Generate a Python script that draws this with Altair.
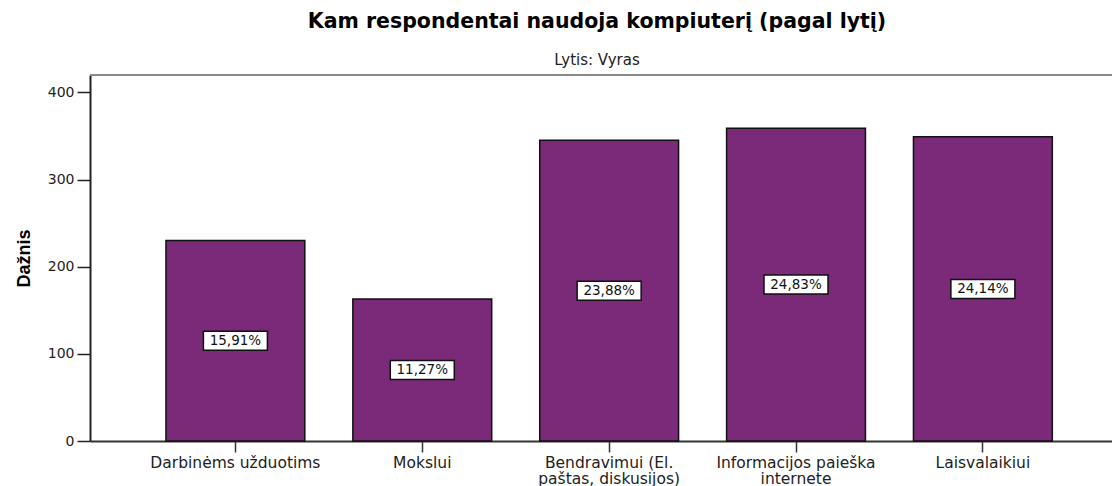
import altair as alt
import pandas as pd

categories = [
    "Darbinėms užduotims",
    "Mokslui",
    "Bendravimui (El. paštas, diskusijos)",
    "Informacijos paieška internete",
    "Laisvalaikiui",
]
counts = [230, 163, 345, 359, 349]
percent_labels = ["15,91%", "11,27%", "23,88%", "24,83%", "24,14%"]
y_ticks = [0, 100, 200, 300, 400]

df = pd.DataFrame({"cat": categories, "n": counts, "pct": percent_labels})
df["mid"] = df["n"] / 2

W, H = 1022, 366
FONT = "DejaVu Sans"
AFONT = "Liberation Sans"

label_expr = (
    "datum.label == 'Bendravimui (El. paštas, diskusijos)' ? ['Bendravimui (El.', 'paštas, diskusijos)'] : "
    "datum.label == 'Informacijos paieška internete' ? ['Informacijos paieška', 'internete'] : datum.label"
)

xscale = alt.Scale(domain=categories, paddingInner=0.257, paddingOuter=0.363, align=0.56)
yscale = alt.Scale(domain=[0, 420], nice=False, zero=True)

x_enc = alt.X(
    "cat:N", scale=xscale, sort=categories,
    axis=alt.Axis(
        title=None, labelAngle=0, labelExpr=label_expr, labelFont=FONT,
        labelFontSize=15.5, labelColor="#222", labelPadding=3, labelLineHeight=16,
        domainColor="#333", domainWidth=2, tickColor="#333", tickWidth=1.5,
        tickSize=11, labelLimit=300,
    ),
)

base = alt.Chart(df)

bars = base.mark_bar(color="#7a2a78", stroke="#111", strokeWidth=1.5).encode(
    x=x_enc,
    y=alt.Y(
        "n:Q", scale=yscale,
        axis=alt.Axis(
            values=y_ticks, title="Dažnis", titleFont=AFONT, titleFontSize=18,
            titleFontWeight="bold", titleColor="#000", titlePadding=14,
            labelFont=FONT, labelFontSize=14, labelColor="#222", labelPadding=3,
            domainColor="#222", domainWidth=2, tickColor="#222", tickWidth=1.5,
            tickSize=13, grid=False,
        ),
    ),
)

box_path = "M-1,-0.297L1,-0.297L1,0.297L-1,0.297Z"
boxes = base.mark_point(
    shape=box_path, size=4096, filled=True, fill="white", stroke="#111",
    strokeWidth=1.5, opacity=1,
).encode(x=alt.X("cat:N", scale=xscale, sort=categories), y=alt.Y("mid:Q", scale=yscale))

texts = base.mark_text(font=FONT, fontSize=13.5, color="#111").encode(
    x=alt.X("cat:N", scale=xscale, sort=categories),
    y=alt.Y("mid:Q", scale=yscale),
    text="pct:N",
)

top_rule = base.mark_rule(color="#888", strokeWidth=2).encode(
    x=alt.value(0), x2=alt.value(W), y=alt.value(0)
)

chart = (
    alt.layer(bars, boxes, texts, top_rule)
    .properties(
        width=W,
        height=H,
        autosize=alt.AutoSizeParams(type="none"),
        padding={"left": 82, "top": 67, "right": 0, "bottom": 45},
        title=alt.TitleParams(
            text="Kam respondentai naudoja kompiuterį (pagal lytį)",
            subtitle="Lytis: Vyras",
            anchor="middle",
            font=FONT,
            fontSize=20.5,
            fontWeight="bold",
            color="#000",
            subtitleFont=FONT,
            subtitleFontSize=15,
            subtitleColor="#222",
            subtitlePadding=21,
            offset=6,
            dx=-4,
        ),
    )
    .configure_view(stroke=None)
)

chart.save("out.html", embed_options={"renderer": "svg", "actions": False})
